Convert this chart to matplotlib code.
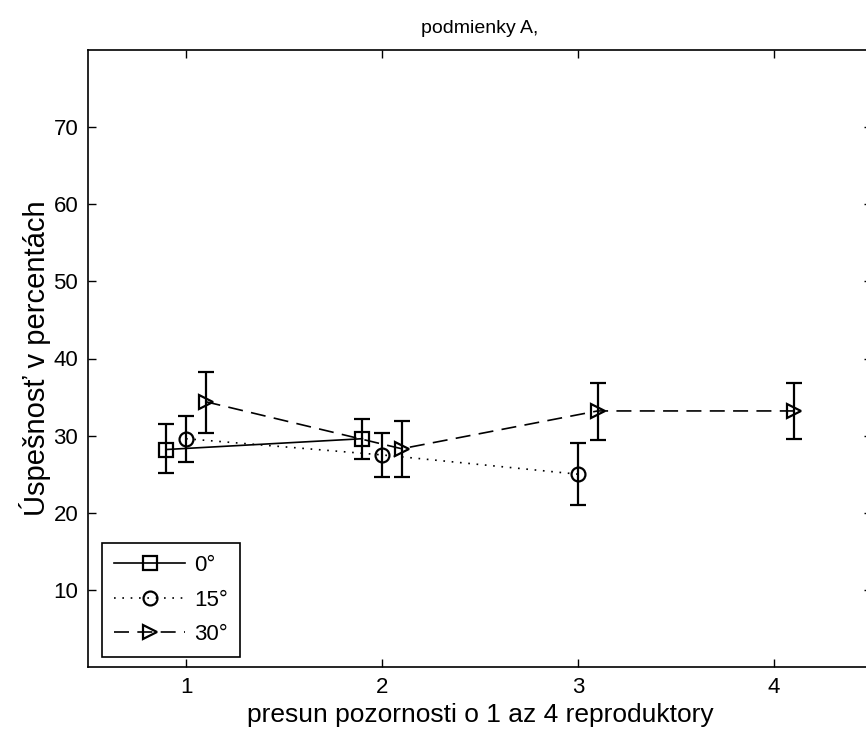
import matplotlib
matplotlib.use('Agg')
import matplotlib.pyplot as plt
import numpy as np

matplotlib.rcParams['font.family'] = ['Liberation Sans', 'DejaVu Sans']

# pozicie a hodnoty (odcitane z grafu)
x0 = [0.9, 1.9]
y0 = [28.2, 29.6]
lo0 = [25.2, 27.0]
hi0 = [31.5, 32.1]

x15 = [1.0, 2.0, 3.0]
y15 = [29.6, 27.5, 25.0]
lo15 = [26.6, 24.6, 21.0]
hi15 = [32.6, 30.3, 29.1]

x30 = [1.1, 2.1, 3.1, 4.1]
y30 = [34.4, 28.3, 33.2, 33.2]
lo30 = [30.4, 24.7, 29.4, 29.6]
hi30 = [38.2, 31.9, 36.8, 36.8]

labels = ['0°', '15°', '30°']

fig = plt.figure(figsize=(8.66, 7.37), dpi=100)
ax = fig.add_axes([88/866, 70/737, 784/866, 617/737])

series = [
    (x0, y0, lo0, hi0, 's', '-'),
    (x15, y15, lo15, hi15, 'o', ':'),
    (x30, y30, lo30, hi30, '>', '--'),
]

handles = []
for (x, y, lo, hi, m, ls), lab in zip(series, labels):
    y = np.array(y)
    err = [y - np.array(lo), np.array(hi) - y]
    ax.errorbar(x, y, yerr=err, fmt='none', ecolor='k', elinewidth=1.6,
                capsize=6, capthick=1.6)
    line, = ax.plot(x, y, color='k', marker=m, ls=ls, lw=1.2, ms=10,
                    mfc='none', mec='k', mew=1.6, label=lab)
    if ls == '--':
        line.set_dashes((9, 5))
    elif ls == ':':
        line.set_dashes((1, 4))
    handles.append(line)

ax.set_xlim(0.5, 4.5)
ax.set_ylim(0, 80)
ax.set_xticks([1, 2, 3, 4])
ax.set_yticks([10, 20, 30, 40, 50, 60, 70])
ax.tick_params(direction='in', top=True, right=True, length=6, width=1,
               labelsize=16, pad=7)
for s in ax.spines.values():
    s.set_linewidth(1.2)

ax.set_title('podmienky A,', fontsize=14, pad=12)
ax.set_xlabel('presun pozornosti o 1 az 4 reproduktory', fontsize=19, labelpad=4)
ax.set_ylabel('Úspešnosť v percentách', fontsize=21, labelpad=2)

leg = ax.legend(handles=handles, loc='lower left', bbox_to_anchor=(0.018, 0.016),
                borderaxespad=0, fontsize=16, numpoints=1, handlelength=3.2,
                handletextpad=0.4, fancybox=False, framealpha=1,
                edgecolor='k', borderpad=0.55, labelspacing=0.6)
leg.get_frame().set_linewidth(1.2)

fig.savefig('out.png', dpi=100)
